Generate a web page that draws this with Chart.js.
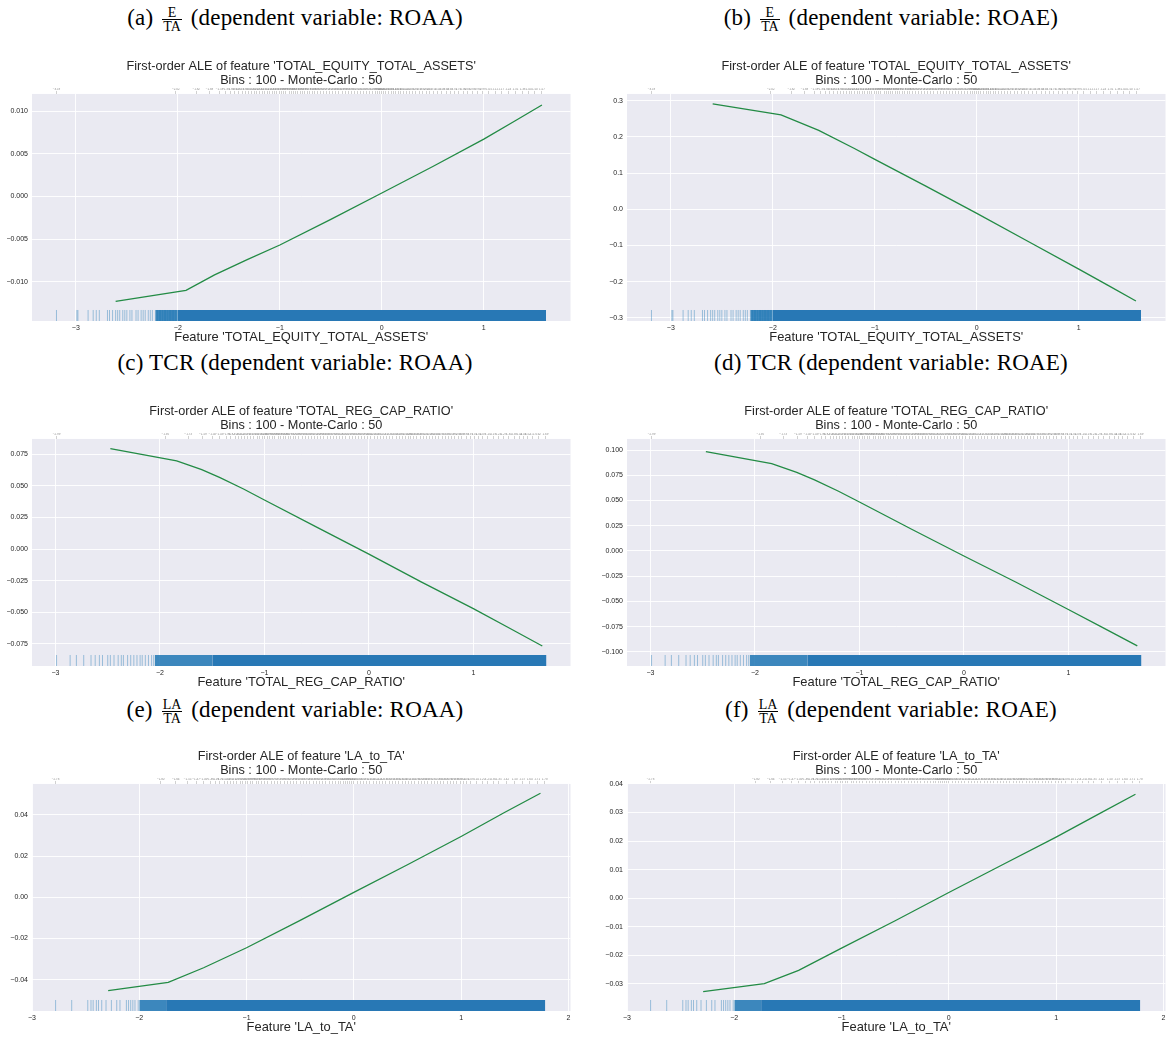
<!DOCTYPE html>
<html>
<head>
<meta charset="utf-8">
<script src="https://cdn.jsdelivr.net/npm/chart.js@4.4.1/dist/chart.umd.min.js"></script>
<style>
  html, body { margin: 0; padding: 0; background: #fff; }
  body { width: 1167px; height: 1039px; overflow: hidden; position: relative; }
  .cap { position: absolute; width: 590px; text-align: center; font-family: 'Liberation Serif', serif;
         font-size: 23px; letter-spacing: 0.2px; line-height: 30px; color: #000; white-space: nowrap; }
  .frac { display: inline-block; vertical-align: middle; text-align: center; font-size: 14px; line-height: 13px; margin: 0 3px; letter-spacing: 0; }
  .frac span { display: block; padding: 0 1px; }
  .frac span.num { border-bottom: 1px solid #000; }
  canvas { position: absolute; }
</style>
</head>
<body>
<div class="cap" style="left:0;top:3px">(a) <span class="frac"><span class="num">E</span><span>TA</span></span> (dependent variable: ROAA)</div>
<div class="cap" style="left:596px;top:3px">(b) <span class="frac"><span class="num">E</span><span>TA</span></span> (dependent variable: ROAE)</div>
<div class="cap" style="left:0;top:348px">(c) TCR (dependent variable: ROAA)</div>
<div class="cap" style="left:596px;top:348px">(d) TCR (dependent variable: ROAE)</div>
<div class="cap" style="left:0;top:695px">(e) <span class="frac"><span class="num">LA</span><span>TA</span></span> (dependent variable: ROAA)</div>
<div class="cap" style="left:596px;top:695px">(f) <span class="frac"><span class="num">LA</span><span>TA</span></span> (dependent variable: ROAE)</div>

<canvas id="pa" width="577" height="289" style="left:0;top:58px"></canvas>
<canvas id="pb" width="582" height="289" style="left:590px;top:58px"></canvas>
<canvas id="pc" width="577" height="289" style="left:0;top:403px"></canvas>
<canvas id="pd" width="582" height="289" style="left:590px;top:403px"></canvas>
<canvas id="pe" width="577" height="289" style="left:0;top:748px"></canvas>
<canvas id="pf" width="582" height="289" style="left:590px;top:748px"></canvas>

<script>
const FONT = "'Liberation Sans', Arial, sans-serif";
const SUBTITLE = 'Bins : 100 - Monte-Carlo : 50';

// ALE curves
const aleAX = [-2.61, -1.92, -1.64, -1.32, -1.0, -0.5, 0, 0.5, 1, 1.3, 1.57];
const aleAY = [-0.0123, -0.0110, -0.0092, -0.0074, -0.0057, -0.0027, 0.0004, 0.0035, 0.0067, 0.0088, 0.0107];
const aleBX = [-2.59, -1.92, -1.55, -1.2, -1.0, -0.5, 0, 0.5, 1, 1.3, 1.56];
const aleBY = [0.291, 0.261, 0.218, 0.168, 0.138, 0.064, -0.011, -0.088, -0.165, -0.212, -0.253];
const aleCX = [-2.475, -1.84, -1.6, -1.425, -1.2, -1.0, -0.5, 0, 0.5, 1, 1.33, 1.66];
const aleCY = [0.0795, 0.0697, 0.0628, 0.0565, 0.0475, 0.0388, 0.0174, -0.004, -0.0259, -0.047, -0.0618, -0.0766];
const aleDX = [-2.47, -1.84, -1.6, -1.43, -1.2, -1.0, -0.5, 0, 0.5, 1, 1.33, 1.66];
const aleDY = [0.0985, 0.0865, 0.0778, 0.0705, 0.0592, 0.0485, 0.0215, -0.005, -0.031, -0.058, -0.076, -0.094];
const aleEX = [-2.29, -1.73, -1.4, -1.0, -0.5, 0, 0.5, 1, 1.4, 1.74];
const aleEY = [-0.0453, -0.0413, -0.0342, -0.0245, -0.0112, 0.0024, 0.0158, 0.0295, 0.0410, 0.0505];
const aleFX = [-2.29, -1.72, -1.4, -1.0, -0.5, 0, 0.5, 1, 1.4, 1.74];
const aleFY = [-0.0327, -0.0299, -0.0253, -0.0175, -0.0079, 0.0020, 0.0117, 0.0214, 0.0295, 0.0364];

// rug of the feature values (sparse lines + dense stretches)
const rugEquity = [-3.19, -2.99, -2.98, -2.88, -2.83, -2.80, -2.77, -2.69, -2.67, -2.64, -2.61, -2.59, -2.57, -2.54,
  -2.52, -2.50, -2.47, -2.45, -2.41, -2.39, -2.36, -2.34, -2.32, -2.29, -2.27, -2.25, -2.22, -2.20, -2.18, -2.17,
  -2.15, -2.13, -2.12, -2.10, -2.08, -2.07, -2.05, -2.04, -2.02];
const rugEquityMid = [-2.22, -2.0];
const rugEquityDense = [-2.0, 1.61];
const rugTcr = [-2.99, -2.86, -2.80, -2.73, -2.66, -2.62, -2.58, -2.55, -2.50, -2.475, -2.44, -2.40, -2.37, -2.35,
  -2.31, -2.28, -2.25, -2.22, -2.19, -2.17, -2.14, -2.11, -2.08, -2.06];
const rugTcrMid = [-2.05, -1.5];
const rugTcrDense = [-1.5, 1.70];
const rugLa = [-2.78, -2.63, -2.48, -2.45, -2.43, -2.40, -2.38, -2.35, -2.31, -2.26, -2.21, -2.18, -2.12, -2.10,
  -2.08, -2.06, -2.04, -2.01];
const rugLaMid = [-2.0, -1.75];
const rugLaDense = [-1.75, 1.785];

// bin edges shown on the top axis
const edgesEquity = [-3.19, -2.02, -1.82, -1.69, -1.59, -1.53, -1.48, -1.44, -1.41, -1.37, -1.34, -1.31, -1.28, -1.25,
  -1.23, -1.20, -1.17, -1.15, -1.12, -1.10, -1.07, -1.05, -1.03, -1.00, -0.98, -0.96, -0.94, -0.91, -0.89, -0.87,
  -0.85, -0.83, -0.80, -0.78, -0.76, -0.73, -0.71, -0.68, -0.66, -0.63, -0.60, -0.57, -0.54, -0.51, -0.48, -0.45,
  -0.42, -0.39, -0.36, -0.33, -0.30, -0.27, -0.24, -0.21, -0.18, -0.15, -0.12, -0.09, -0.06, -0.04, -0.02, 0.00,
  0.02, 0.04, 0.07, 0.09, 0.11, 0.13, 0.16, 0.18, 0.21, 0.24, 0.27, 0.30, 0.33, 0.37, 0.40, 0.44, 0.47, 0.51, 0.55,
  0.59, 0.63, 0.67, 0.71, 0.75, 0.80, 0.84, 0.89, 0.94, 0.99, 1.05, 1.11, 1.17, 1.24, 1.31, 1.38, 1.44, 1.50, 1.57];
const edgesTcr = [-2.99, -1.95, -1.73, -1.59, -1.50, -1.43, -1.36, -1.32, -1.28, -1.25, -1.22, -1.19, -1.16, -1.13,
  -1.10, -1.07, -1.05, -1.02, -1.00, -0.97, -0.95, -0.92, -0.90, -0.87, -0.85, -0.82, -0.80, -0.77, -0.75, -0.72,
  -0.70, -0.67, -0.64, -0.61, -0.58, -0.55, -0.52, -0.49, -0.46, -0.43, -0.40, -0.37, -0.34, -0.31, -0.28, -0.25,
  -0.22, -0.19, -0.16, -0.13, -0.10, -0.07, -0.04, -0.01, 0.02, 0.05, 0.08, 0.11, 0.14, 0.17, 0.20, 0.23, 0.26,
  0.29, 0.32, 0.35, 0.38, 0.40, 0.43, 0.46, 0.49, 0.52, 0.55, 0.58, 0.61, 0.64, 0.67, 0.70, 0.73, 0.76, 0.79, 0.82,
  0.86, 0.89, 0.93, 0.97, 1.01, 1.05, 1.09, 1.14, 1.19, 1.24, 1.29, 1.34, 1.39, 1.44, 1.48, 1.52, 1.57, 1.62, 1.69];
const edgesLa = [-2.78, -1.80, -1.66, -1.55, -1.47, -1.40, -1.34, -1.29, -1.25, -1.21, -1.18, -1.15, -1.12, -1.09,
  -1.06, -1.04, -1.01, -0.99, -0.96, -0.94, -0.91, -0.89, -0.86, -0.83, -0.80, -0.77, -0.74, -0.71, -0.68, -0.65,
  -0.62, -0.59, -0.56, -0.53, -0.50, -0.47, -0.44, -0.41, -0.38, -0.35, -0.32, -0.29, -0.26, -0.23, -0.20, -0.17,
  -0.14, -0.12, -0.10, -0.08, -0.06, -0.04, -0.02, 0.00, 0.03, 0.06, 0.09, 0.12, 0.15, 0.18, 0.21, 0.24, 0.27, 0.30,
  0.33, 0.36, 0.39, 0.42, 0.45, 0.48, 0.51, 0.54, 0.57, 0.60, 0.63, 0.66, 0.69, 0.72, 0.75, 0.78, 0.81, 0.84, 0.87,
  0.90, 0.93, 0.96, 0.99, 1.02, 1.05, 1.09, 1.14, 1.20, 1.25, 1.30, 1.35, 1.42, 1.50, 1.57, 1.64, 1.71, 1.78];

// axis ticks
const xTicksEquity = [-3, -2, -1, 0, 1];
const xTicksTcr = [-3, -2, -1, 0, 1];
const xTicksLa = [-3, -2, -1, 0, 1, 2];
const yTicksA = [-0.010, -0.005, 0, 0.005, 0.010];
const yTicksB = [-0.3, -0.2, -0.1, 0, 0.1, 0.2, 0.3];
const yTicksC = [-0.075, -0.050, -0.025, 0, 0.025, 0.050, 0.075];
const yTicksD = [-0.100, -0.075, -0.050, -0.025, 0, 0.025, 0.050, 0.075, 0.100];
const yTicksE = [-0.04, -0.02, 0, 0.02, 0.04];
const yTicksF = [-0.03, -0.02, -0.01, 0, 0.01, 0.02, 0.03, 0.04];

const bgPlugin = {
  id: 'plotBg',
  beforeDraw(chart) {
    const { ctx, chartArea: a } = chart;
    ctx.save();
    ctx.fillStyle = '#eaeaf2';
    ctx.fillRect(a.left, a.top, a.right - a.left, a.bottom - a.top);
    ctx.restore();
  }
};

function fmt(v, d) {
  return v.toFixed(d).replace('-', '\u2212');
}

function drawPanel(id, p) {
  const span = p.yMax - p.yMin;
  const rugMid = p.yMin + span * 5.5 / 227;
  const rugTop = p.yMin + span * 11 / 227;
  const band = (r, color) => ({
    type: 'line',
    data: [{ x: r[0], y: rugTop }, { x: r[1], y: rugTop }],
    borderWidth: 0, pointRadius: 0,
    fill: { value: p.yMin },
    backgroundColor: color
  });

  new Chart(document.getElementById(id), {
    type: 'line',
    data: {
      datasets: [
        {
          data: p.aleX.map((x, i) => ({ x: x, y: p.aleY[i] })),
          borderColor: '#238b45', borderWidth: 1.3, pointRadius: 0, tension: 0
        },
        {
          type: 'scatter',
          data: p.rug.map(x => ({ x: x, y: rugMid })),
          pointStyle: 'line', pointRadius: 5.5, pointRotation: 90,
          pointBorderWidth: 1, pointBorderColor: 'rgba(31,119,180,0.4)'
        },
        band(p.rugMid, 'rgba(31,119,180,0.86)'),
        band(p.rugDense, '#2878b5')
      ]
    },
    options: {
      responsive: false,
      animation: false,
      events: [],
      layout: { padding: 0 },
      plugins: {
        legend: { display: false },
        tooltip: { enabled: false },
        title: {
          display: true,
          text: [p.title, SUBTITLE],
          fullSize: false,
          color: '#262626',
          font: { family: FONT, size: 12.7, weight: 'normal', lineHeight: 1.1 },
          padding: { top: 2, bottom: 0 }
        }
      },
      scales: {
        x: {
          type: 'linear', position: 'bottom', min: p.xMin, max: p.xMax,
          afterBuildTicks: s => { s.ticks = p.xTicks.map(v => ({ value: v })); },
          afterFit: s => { s.height = 26; },
          grid: { color: 'rgba(255,255,255,0.9)', lineWidth: 1, drawTicks: false },
          border: { display: false },
          ticks: { color: '#262626', font: { family: FONT, size: 7 }, padding: 3, maxRotation: 0,
                   callback: v => fmt(v, 0) },
          title: { display: true, text: p.xLabel, color: '#262626',
                   font: { family: FONT, size: 12.9 }, padding: { top: 0, bottom: 2 } }
        },
        x2: {
          type: 'linear', position: 'top', min: p.xMin, max: p.xMax,
          afterBuildTicks: s => { s.ticks = p.edges.map(v => ({ value: v })); },
          afterFit: s => { s.height = 6; },
          grid: { drawOnChartArea: false, drawTicks: true, tickLength: 3, color: '#a0a0a0', lineWidth: 0.5 },
          border: { display: false },
          ticks: { autoSkip: false, maxRotation: 0, minRotation: 0, padding: 0, color: '#8a8a8a',
                   font: { family: FONT, size: 3 }, callback: v => fmt(v, 2) }
        },
        y: {
          min: p.yMin, max: p.yMax,
          afterBuildTicks: s => { s.ticks = p.yTicks.map(v => ({ value: v })); },
          afterFit: s => { s.width = p.yWidth; },
          grid: { color: 'rgba(255,255,255,0.9)', lineWidth: 1, drawTicks: false },
          border: { display: false },
          ticks: { color: '#262626', font: { family: FONT, size: 7 }, padding: 4,
                   callback: v => fmt(v, p.yDec) }
        }
      }
    },
    plugins: [bgPlugin]
  });
}

drawPanel('pa', {
  title: "First-order ALE of feature 'TOTAL_EQUITY_TOTAL_ASSETS'", xLabel: "Feature 'TOTAL_EQUITY_TOTAL_ASSETS'",
  aleX: aleAX, aleY: aleAY, rug: rugEquity, rugMid: rugEquityMid, rugDense: rugEquityDense, edges: edgesEquity,
  xMin: -3.43, xMax: 1.85, xTicks: xTicksEquity, yMin: -0.0146, yMax: 0.0120, yTicks: yTicksA, yDec: 3, yWidth: 32
});
drawPanel('pb', {
  title: "First-order ALE of feature 'TOTAL_EQUITY_TOTAL_ASSETS'", xLabel: "Feature 'TOTAL_EQUITY_TOTAL_ASSETS'",
  aleX: aleBX, aleY: aleBY, rug: rugEquity, rugMid: rugEquityMid, rugDense: rugEquityDense, edges: edgesEquity,
  xMin: -3.43, xMax: 1.85, xTicks: xTicksEquity, yMin: -0.3083, yMax: 0.3186, yTicks: yTicksB, yDec: 1, yWidth: 37
});
drawPanel('pc', {
  title: "First-order ALE of feature 'TOTAL_REG_CAP_RATIO'", xLabel: "Feature 'TOTAL_REG_CAP_RATIO'",
  aleX: aleCX, aleY: aleCY, rug: rugTcr, rugMid: rugTcrMid, rugDense: rugTcrDense, edges: edgesTcr,
  xMin: -3.225, xMax: 1.93, xTicks: xTicksTcr, yMin: -0.0924, yMax: 0.0871, yTicks: yTicksC, yDec: 3, yWidth: 32
});
drawPanel('pd', {
  title: "First-order ALE of feature 'TOTAL_REG_CAP_RATIO'", xLabel: "Feature 'TOTAL_REG_CAP_RATIO'",
  aleX: aleDX, aleY: aleDY, rug: rugTcr, rugMid: rugTcrMid, rugDense: rugTcrDense, edges: edgesTcr,
  xMin: -3.225, xMax: 1.93, xTicks: xTicksTcr, yMin: -0.114, yMax: 0.111, yTicks: yTicksD, yDec: 3, yWidth: 37
});
drawPanel('pe', {
  title: "First-order ALE of feature 'LA_to_TA'", xLabel: "Feature 'LA_to_TA'",
  aleX: aleEX, aleY: aleEY, rug: rugLa, rugMid: rugLaMid, rugDense: rugLaDense, edges: edgesLa,
  xMin: -3.0, xMax: 2.02, xTicks: xTicksLa, yMin: -0.0552, yMax: 0.0550, yTicks: yTicksE, yDec: 2, yWidth: 32
});
drawPanel('pf', {
  title: "First-order ALE of feature 'LA_to_TA'", xLabel: "Feature 'LA_to_TA'",
  aleX: aleFX, aleY: aleFY, rug: rugLa, rugMid: rugLaMid, rugDense: rugLaDense, edges: edgesLa,
  xMin: -3.0, xMax: 2.02, xTicks: xTicksLa, yMin: -0.0395, yMax: 0.0400, yTicks: yTicksF, yDec: 2, yWidth: 37
});
</script>
</body>
</html>
